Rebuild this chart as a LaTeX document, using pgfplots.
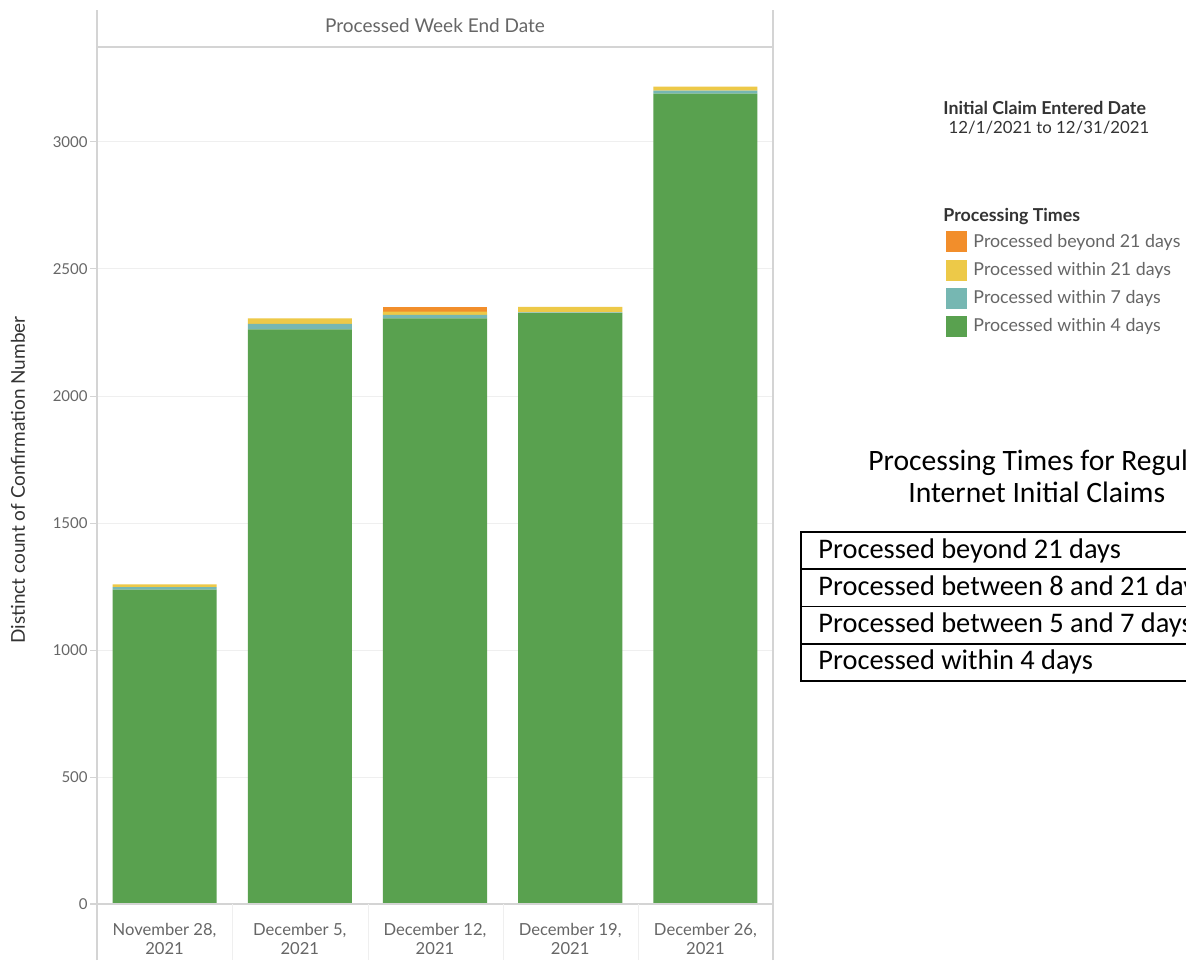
\documentclass[border=0pt]{standalone}
\usepackage{fontspec}
\setmainfont{Lato}
\newfontfamily\calibri{Carlito}
\usepackage{pgfplots}
\pgfplotsset{compat=1.18}
\definecolor{cgreen}{HTML}{59A14F}
\definecolor{cteal}{HTML}{76B7B2}
\definecolor{cyellow}{HTML}{EDC948}
\definecolor{corange}{HTML}{F28E2B}
\definecolor{tgray}{HTML}{666666}
\definecolor{ldark}{HTML}{333333}
\definecolor{lineg}{HTML}{D4D4D4}
\definecolor{gridg}{HTML}{EFEFEF}
\begin{document}
\begin{tikzpicture}
\path[use as bounding box, clip] (0pt,0pt) rectangle (593pt,480pt);
\fill[white] (0pt,0pt) rectangle (593pt,480pt);
\begin{axis}[
  at={(48.5pt,28pt)}, anchor=south west,
  width=338pt, height=428.5pt, scale only axis,
  xmin=-0.5, xmax=4.5, ymin=0, ymax=3374,
  ybar stacked, bar width=0.77,
  axis line style={draw=none},
  xtick={0,1,2,3,4},
  xticklabels={{November 28,\\2021},{December 5,\\2021},{December 12,\\2021},{December 19,\\2021},{December 26,\\2021}},
  xticklabel style={align=center, font=\fontsize{8.3}{9.3}\selectfont, text=tgray, inner sep=0pt, yshift=-6pt},
  xtick style={draw=none},
  ytick={0,500,1000,1500,2000,2500,3000},
  ytick pos=left,
  yticklabel style={font=\fontsize{7.5}{9}\selectfont, text=tgray, inner sep=1pt},
  /pgf/number format/assume math mode=true,
  /pgf/number format/1000 sep={},
  scaled y ticks=false,
  ytick style={draw=lineg, line width=0.5pt},
  tick align=outside, major tick length=3.5pt,
  ymajorgrids, grid style={gridg, line width=0.5pt},
  reverse legend,
  legend style={at={(1.256,0.787)}, anchor=north west, draw=none, fill=none,
    inner sep=0pt, font=\fontsize{8.9}{10}\selectfont, text=tgray,
    row sep=2pt, nodes={inner ysep=2pt, inner xsep=3pt}},
  legend cell align=left,
  legend image code/.code={\path[#1,draw=none] (0pt,-5.25pt) rectangle (10.5pt,5.25pt);},
]
\addplot[fill=cgreen, draw=none] coordinates {(0,1238) (1,2262) (2,2306) (3,2326) (4,3190)};
\addlegendentry{Processed within 4 days}
\addplot[fill=cteal, draw=none] coordinates {(0,10) (1,22) (2,13) (3,3) (4,12)};
\addlegendentry{Processed within 7 days}
\addplot[fill=cyellow, draw=none] coordinates {(0,10) (1,22) (2,13) (3,22) (4,16)};
\addlegendentry{Processed within 21 days}
\addplot[fill=corange, draw=none] coordinates {(0,0) (1,0) (2,17) (3,0) (4,0)};
\addlegendentry{Processed beyond 21 days}
\end{axis}
% frame lines
\draw[lineg, line width=0.8pt] (48.5pt,0pt) -- (48.5pt,475pt);
\draw[lineg, line width=0.8pt] (386.5pt,0pt) -- (386.5pt,475pt);
\draw[lineg, line width=0.8pt] (48.5pt,456.5pt) -- (386.5pt,456.5pt);
\draw[lineg, line width=0.8pt] (45pt,28pt) -- (386.5pt,28pt);
\foreach \xx in {116.25,184,251.5,319} {\draw[gridg, line width=0.5pt] (\xx pt,0pt) -- (\xx pt,28pt);}
\node[font=\fontsize{9.5}{11}\selectfont, text=tgray] at (217.5pt,467pt) {Processed Week End Date};
\node[rotate=90, font=\fontsize{9.5}{11}\selectfont, text=ldark] at (9pt,240pt) {Distinct count of Confirmation Number};
% filter / legend titles
\node[anchor=west, inner sep=0pt, font=\bfseries\fontsize{8.9}{10}\selectfont, text=ldark] at (471.5pt,426pt) {Initial Claim Entered Date};
\node[inner sep=0pt, font=\fontsize{8.4}{10}\selectfont, text=ldark] at (524.5pt,416pt) {12/1/2021 to 12/31/2021};
\node[anchor=west, inner sep=0pt, font=\bfseries\fontsize{8.9}{10}\selectfont, text=ldark] at (471.5pt,371.5pt) {Processing Times};
% table
\node[anchor=west, inner sep=0pt, font=\calibri\fontsize{14.8}{17}\selectfont] at (434pt,248.5pt) {Processing Times for Regular};
\node[anchor=west, inner sep=0pt, font=\calibri\fontsize{14.8}{17}\selectfont] at (454pt,234pt) {Internet Initial Claims};
\draw[black, line width=0.9pt] (620pt,214pt) -- (400.5pt,214pt) -- (400.5pt,139.5pt) -- (620pt,139.5pt);
\foreach \yy in {195.4,176.8,158.1} {\draw[black, line width=0.9pt] (400.5pt,\yy pt) -- (620pt,\yy pt);}
\node[anchor=west, inner sep=0pt, font=\calibri\fontsize{14.2}{16}\selectfont] at (409pt,204.7pt) {Processed beyond 21 days};
\node[anchor=west, inner sep=0pt, font=\calibri\fontsize{14.2}{16}\selectfont] at (409pt,186.1pt) {Processed between 8 and 21 days};
\node[anchor=west, inner sep=0pt, font=\calibri\fontsize{14.2}{16}\selectfont] at (409pt,167.5pt) {Processed between 5 and 7 days};
\node[anchor=west, inner sep=0pt, font=\calibri\fontsize{14.2}{16}\selectfont] at (409pt,148.8pt) {Processed within 4 days};
\end{tikzpicture}
\end{document}
